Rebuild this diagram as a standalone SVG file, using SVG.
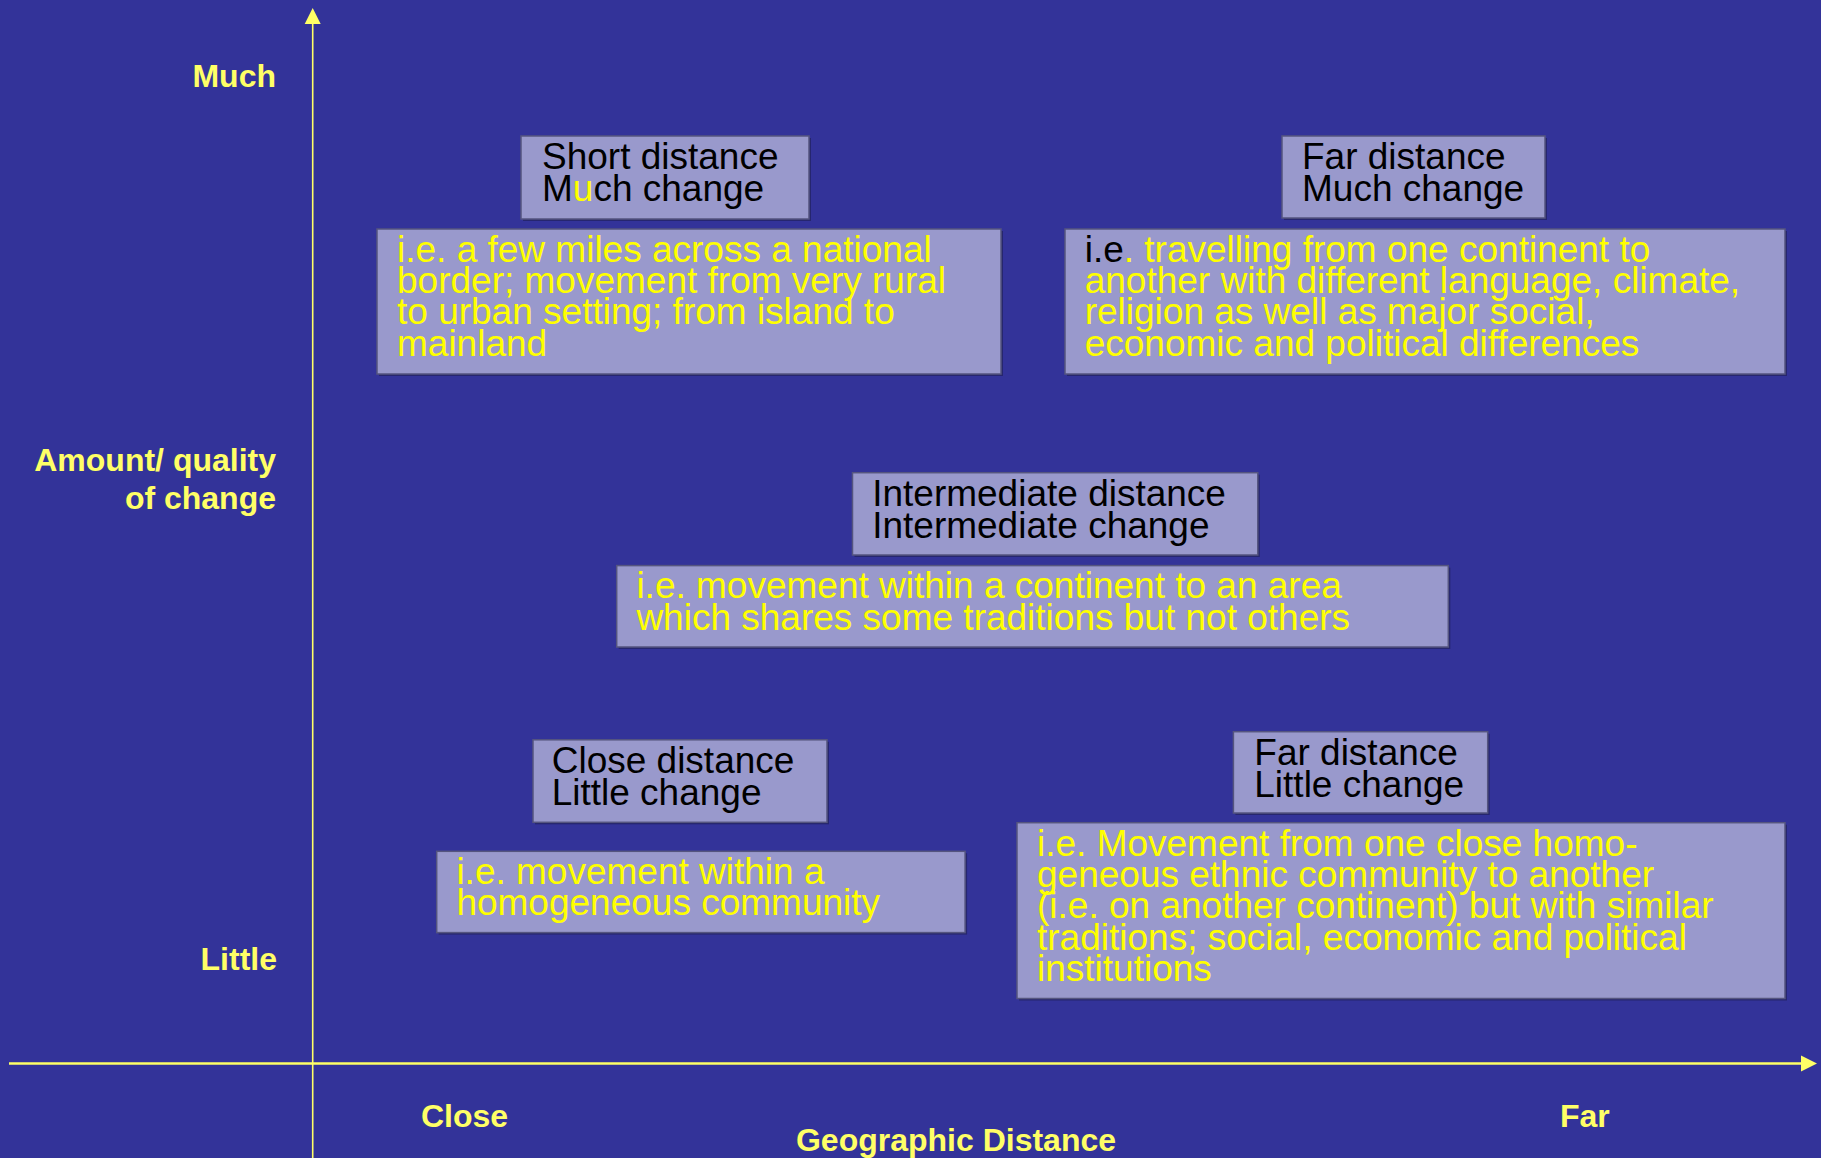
<svg xmlns="http://www.w3.org/2000/svg" width="1821" height="1158" viewBox="0 0 1821 1158">
<style>
.bx{fill:#9999CC;stroke:#55557f;stroke-width:1.5}
.sh{fill:#26266e}
.t{font-family:"Liberation Sans",Arial,sans-serif;font-size:37px}
.k{fill:#000000}
.y{fill:#FFFF00}
.lab{font-family:"Liberation Sans",Arial,sans-serif;font-size:32px;font-weight:bold;fill:#FFFF66}
.ax{stroke:#FFFF66;fill:none}
</style>
<rect x="0" y="0" width="1821" height="1158" fill="#333399"/>
<g id="axes">
<line class="ax" x1="312.7" y1="22" x2="312.7" y2="1158" stroke-width="1.6"/>
<polygon points="312.7,8 304.7,24 320.7,24" fill="#FFFF66"/>
<line class="ax" x1="9" y1="1063.5" x2="1803" y2="1063.5" stroke-width="2.6"/>
<polygon points="1817,1063.5 1801,1055.5 1801,1071.5" fill="#FFFF66"/>
</g>
<g id="axis-labels">
<text class="lab" x="276" y="87" text-anchor="end">Much</text>
<text class="lab" x="276" y="470.7" text-anchor="end">Amount/ quality</text>
<text class="lab" x="276" y="509.3" text-anchor="end">of change</text>
<text class="lab" x="277" y="970" text-anchor="end">Little</text>
<text class="lab" x="421" y="1126.7">Close</text>
<text class="lab" x="1560" y="1126.7">Far</text>
<text class="lab" x="956" y="1151" text-anchor="middle">Geographic Distance</text>
</g>
<g id="short-much">
<rect class="sh" x="523" y="138" width="288" height="83"/>
<rect class="bx" x="521" y="136" width="288" height="83"/>
<text class="t k" x="542" y="169">Short distance</text>
<text class="t k" x="542" y="201">M<tspan class="y">u</tspan>ch change</text>
</g>
<g id="short-much-desc">
<rect class="sh" x="379" y="231" width="624" height="145"/>
<rect class="bx" x="377" y="229" width="624" height="145"/>
<text class="t y" x="397" y="261.7">i.e. a few miles across a national</text>
<text class="t y" x="397" y="293">border; movement from very rural</text>
<text class="t y" x="397" y="324.3">to urban setting; from island to</text>
<text class="t y" x="397" y="355.6">mainland</text>
</g>
<g id="far-much">
<rect class="sh" x="1284" y="138" width="263" height="82"/>
<rect class="bx" x="1282" y="136" width="263" height="82"/>
<text class="t k" x="1302" y="169">Far distance</text>
<text class="t k" x="1302" y="201">Much change</text>
</g>
<g id="far-much-desc">
<rect class="sh" x="1067" y="231" width="720" height="145"/>
<rect class="bx" x="1065" y="229" width="720" height="145"/>
<text class="t k" x="1084.7" y="261.7">i.e<tspan class="y">. travelling from one continent to</tspan></text>
<text class="t y" x="1084.7" y="293">another with different language, climate,</text>
<text class="t y" x="1084.7" y="324.3">religion as well as major social,</text>
<text class="t y" x="1084.7" y="355.6">economic and political differences</text>
</g>
<g id="intermediate">
<rect class="sh" x="854.5" y="474.7" width="405.3" height="82.3"/>
<rect class="bx" x="852.5" y="472.7" width="405.3" height="82.3"/>
<text class="t k" x="872.2" y="505.7">Intermediate distance</text>
<text class="t k" x="872.2" y="537.7">Intermediate change</text>
</g>
<g id="intermediate-desc">
<rect class="sh" x="618.7" y="567.6" width="831.6" height="81.4"/>
<rect class="bx" x="616.7" y="565.6" width="831.6" height="81.4"/>
<text class="t y" x="636.4" y="598.3">i.e. movement within a continent to an area</text>
<text class="t y" x="636.4" y="629.6">which shares some traditions but not others</text>
</g>
<g id="close-little">
<rect class="sh" x="535" y="741.8" width="294" height="82.5"/>
<rect class="bx" x="533" y="739.8" width="294" height="82.5"/>
<text class="t k" x="551.7" y="772.8">Close distance</text>
<text class="t k" x="551.7" y="804.8">Little change</text>
</g>
<g id="close-little-desc">
<rect class="sh" x="438.7" y="853.3" width="528.4" height="81.3"/>
<rect class="bx" x="436.7" y="851.3" width="528.4" height="81.3"/>
<text class="t y" x="456.4" y="884">i.e. movement within a</text>
<text class="t y" x="456.4" y="915.3">homogeneous community</text>
</g>
<g id="far-little">
<rect class="sh" x="1235.4" y="733.7" width="254.3" height="81.3"/>
<rect class="bx" x="1233.4" y="731.7" width="254.3" height="81.3"/>
<text class="t k" x="1254.3" y="764.7">Far distance</text>
<text class="t k" x="1254.3" y="796.7">Little change</text>
</g>
<g id="far-little-desc">
<rect class="sh" x="1019" y="824.7" width="768" height="175.8"/>
<rect class="bx" x="1017" y="822.7" width="768" height="175.8"/>
<text class="t y" x="1037" y="855.7">i.e. Movement from one close homo-</text>
<text class="t y" x="1037" y="887">geneous ethnic community to another</text>
<text class="t y" x="1037" y="918.3">(i.e. on another continent) but with similar</text>
<text class="t y" x="1037" y="949.6">traditions; social, economic and political</text>
<text class="t y" x="1037" y="981">institutions</text>
</g>
</svg>
